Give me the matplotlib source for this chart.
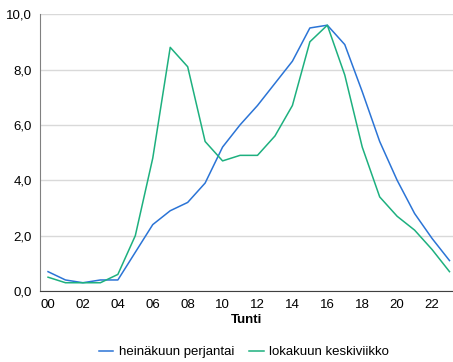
import matplotlib.pyplot as plt

plt.rcParams['font.family'] = ['Liberation Sans', 'DejaVu Sans']

# tunnit 00-23
hours = list(range(24))
tick_hours = list(range(0, 24, 2))
tick_labels = [f"{h:02d}" for h in tick_hours]

heinakuu_pe = [0.7, 0.4, 0.3, 0.4, 0.4, 1.4, 2.4, 2.9, 3.2, 3.9, 5.2, 6.0,
               6.7, 7.5, 8.3, 9.5, 9.6, 8.9, 7.2, 5.4, 4.0, 2.8, 1.9, 1.1]
lokakuu_ke = [0.5, 0.3, 0.3, 0.3, 0.6, 2.0, 4.8, 8.8, 8.1, 5.4, 4.7, 4.9,
              4.9, 5.6, 6.7, 9.0, 9.6, 7.8, 5.2, 3.4, 2.7, 2.2, 1.5, 0.7]

y_ticks = [0, 2, 4, 6, 8, 10]

fig = plt.figure(figsize=(4.53, 3.62), dpi=100)
ax = fig.add_axes([0.0883, 0.196, 0.9117, 0.765])

ax.plot(hours, heinakuu_pe, color='#2b74d6', linewidth=1.1, label='heinäkuun perjantai')
ax.plot(hours, lokakuu_ke, color='#1db07f', linewidth=1.1, label='lokakuun keskiviikko')

ax.set_xlim(-0.46, 23.2)
ax.set_ylim(0, 10)
ax.set_xticks(tick_hours)
ax.set_xticklabels(tick_labels)
ax.set_yticks(y_ticks)
ax.set_yticklabels([f"{v:.1f}".replace('.', ',') for v in y_ticks])
ax.tick_params(length=0, labelsize=9.5, pad=6)
ax.grid(axis='y', color='#d9d9d9', linewidth=1)
ax.set_axisbelow(True)

for s in ['top', 'right']:
    ax.spines[s].set_visible(False)
ax.spines['left'].set_color('#808080')
ax.spines['bottom'].set_color('#404040')

ax.set_xlabel('Tunti', fontsize=9.5, fontweight='bold', labelpad=2)

fig.legend(loc='center', bbox_to_anchor=(244 / 453, 1 - 352 / 362), ncol=2, frameon=False,
           fontsize=9.5, handlelength=1.1, handletextpad=0.45, columnspacing=1.1,
           borderpad=0)

fig.savefig('out.png', dpi=100)
